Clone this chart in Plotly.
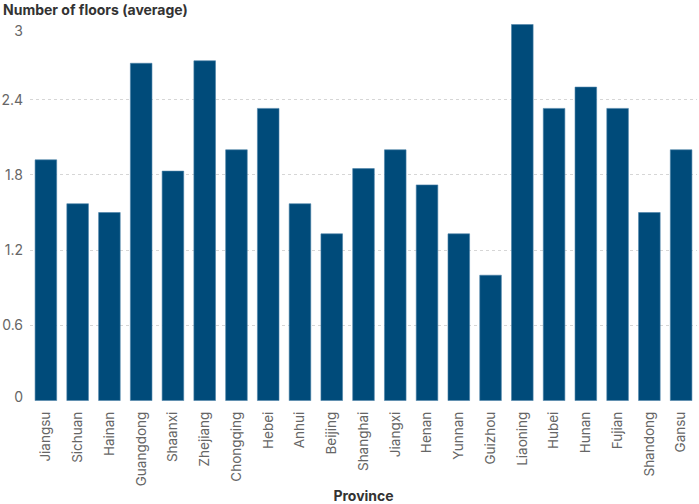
import plotly.graph_objects as go

provinces = ["Jiangsu", "Sichuan", "Hainan", "Guangdong", "Shaanxi", "Zhejiang",
             "Chongqing", "Hebei", "Anhui", "Beijing", "Shanghai", "Jiangxi",
             "Henan", "Yunnan", "Guizhou", "Liaoning", "Hubei", "Hunan",
             "Fujian", "Shandong", "Gansu"]
avg_floors = [1.92, 1.57, 1.5, 2.69, 1.83, 2.71,
              2.0, 2.33, 1.57, 1.33, 1.85, 2.0,
              1.72, 1.33, 1.0, 3.0, 2.33, 2.5,
              2.33, 1.5, 2.0]
y_ticks_mid = [0.6, 1.2, 1.8, 2.4]
y_tick_top = [3]
y_tick_bottom = [0]

BAR = "#004b7a"
TICK = "#666666"
TITLE = "#333333"
FONT = "Inter"
Y_RANGE = [-0.003, 3.003]

fig = go.Figure(go.Bar(
    x=provinces, y=avg_floors,
    marker=dict(color=BAR, line=dict(color="#4a82a8", width=0.6)),
))

tickfont_y = dict(family=FONT, size=14, color=TICK)

fig.update_layout(
    width=699, height=504,
    margin=dict(l=30, r=2, t=24, b=103),
    plot_bgcolor="white", paper_bgcolor="white",
    bargap=0.32,
    showlegend=False,
    font=dict(family=FONT, size=14, color=TICK),
    annotations=[
        dict(text="<b>Number of floors (average)</b>", xref="paper", yref="paper",
             x=0, y=1, xshift=-29, yshift=15, xanchor="left", yanchor="middle",
             showarrow=False, font=dict(family=FONT, size=14, color=TITLE)),
    ],
    xaxis=dict(
        type="category", tickangle=-90, showgrid=False, showline=False,
        ticks="", ticklabelstandoff=7, automargin=False,
        tickfont=dict(family=FONT, size=13.5, color=TICK),
        title=dict(text="<b>Province</b>", font=dict(family=FONT, size=14, color=TITLE), standoff=6),
        range=[-0.5, len(provinces) - 0.5],
    ),
    yaxis=dict(
        range=Y_RANGE, tickvals=[0] + y_ticks_mid + [3], ticktext=[""] + [str(v) for v in y_ticks_mid] + [""],
        showgrid=True, gridcolor="#d6d6d6", griddash="dot", gridwidth=1,
        zeroline=False, showline=False, ticks="", ticklabelstandoff=6, automargin=False,
        tickfont=tickfont_y,
    ),
    yaxis2=dict(
        overlaying="y", side="left", range=Y_RANGE, tickvals=y_tick_top, ticktext=["3"],
        showgrid=False, zeroline=False, showline=False, ticks="", ticklabelstandoff=6,
        ticklabelshift=7, automargin=False, tickfont=tickfont_y,
    ),
    yaxis3=dict(
        overlaying="y", side="left", range=Y_RANGE, tickvals=y_tick_bottom, ticktext=["0"],
        showgrid=False, zeroline=False, showline=False, ticks="", ticklabelstandoff=6,
        ticklabelshift=-4, automargin=False, tickfont=tickfont_y,
    ),
)
# invisible traces so the extra label axes render
fig.add_trace(go.Scatter(x=[provinces[0]], y=[0], yaxis="y2", mode="markers",
                         marker=dict(opacity=0), hoverinfo="skip", showlegend=False))
fig.add_trace(go.Scatter(x=[provinces[0]], y=[0], yaxis="y3", mode="markers",
                         marker=dict(opacity=0), hoverinfo="skip", showlegend=False))

fig.write_html("out.html", config={"displayModeBar": False},
               post_script="document.body.style.margin='0';document.body.style.overflow='hidden';")
